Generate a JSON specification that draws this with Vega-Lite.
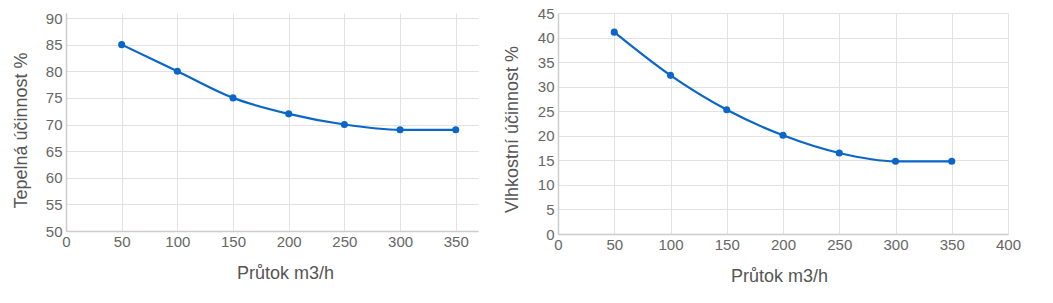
{
  "$schema": "https://vega.github.io/schema/vega-lite/v6.json",
  "padding": {"left": 12, "top": 6, "right": 0, "bottom": 0},
  "spacing": 25,
  "datasets": {
    "tep": [
      {"prutok": 50, "ucinnost": 85},
      {"prutok": 100, "ucinnost": 80},
      {"prutok": 150, "ucinnost": 75},
      {"prutok": 200, "ucinnost": 72},
      {"prutok": 250, "ucinnost": 70},
      {"prutok": 300, "ucinnost": 69},
      {"prutok": 350, "ucinnost": 69}
    ],
    "vlh": [
      {"prutok": 50, "ucinnost": 41.1},
      {"prutok": 100, "ucinnost": 32.3},
      {"prutok": 150, "ucinnost": 25.3},
      {"prutok": 200, "ucinnost": 20.1},
      {"prutok": 250, "ucinnost": 16.5},
      {"prutok": 300, "ucinnost": 14.8},
      {"prutok": 350, "ucinnost": 14.8}
    ]
  },
  "config": {
    "view": {"stroke": null},
    "font": "Liberation Sans",
    "axis": {
      "labelFont": "Liberation Sans",
      "titleFont": "Liberation Sans",
      "labelFontSize": 15,
      "titleFontSize": 18,
      "titleFontWeight": "normal",
      "labelColor": "#666666",
      "titleColor": "#555555",
      "gridColor": "#e2e2e2",
      "gridWidth": 1,
      "domainColor": "#cccccc",
      "domainWidth": 1.5,
      "ticks": false,
      "labelOverlap": false,
      "labelBound": false,
      "labelFlush": false
    },
    "axisX": {"labelPadding": 3, "titlePadding": 15},
    "axisY": {"labelPadding": 4, "titlePadding": 15}
  },
  "hconcat": [
    {
      "width": 412,
      "height": 218,
      "data": {"name": "tep"},
      "encoding": {
        "x": {"field": "prutok", "type": "quantitative", "scale": {"domain": [0, 370], "nice": false},
          "axis": {"title": "Průtok m3/h", "values": [0, 50, 100, 150, 200, 250, 300, 350], "titleX": 219}},
        "y": {"field": "ucinnost", "type": "quantitative", "scale": {"domain": [50, 90.94], "nice": false, "zero": false},
          "axis": {"title": "Tepelná účinnost %", "values": [50, 55, 60, 65, 70, 75, 80, 85, 90], "titleY": 117}}
      },
      "layer": [
        {"mark": {"type": "line", "interpolate": "monotone", "color": "#0a66c8", "strokeWidth": 2.2}},
        {"mark": {"type": "point", "filled": true, "opacity": 1, "color": "#0a66c8", "size": 50}}
      ]
    },
    {
      "width": 450,
      "height": 221,
      "data": {"name": "vlh"},
      "encoding": {
        "x": {"field": "prutok", "type": "quantitative", "scale": {"domain": [0, 400], "nice": false},
          "axis": {"title": "Průtok m3/h", "values": [0, 50, 100, 150, 200, 250, 300, 350, 400], "titleX": 221}},
        "y": {"field": "ucinnost", "type": "quantitative", "scale": {"domain": [0, 45], "nice": false},
          "axis": {"title": "Vlhkostní účinnost %", "values": [0, 5, 10, 15, 20, 25, 30, 35, 40, 45], "titleY": 116, "titlePadding": 16}}
      },
      "layer": [
        {"mark": {"type": "line", "interpolate": "monotone", "color": "#0a66c8", "strokeWidth": 2.2}},
        {"mark": {"type": "point", "filled": true, "opacity": 1, "color": "#0a66c8", "size": 50}}
      ]
    }
  ]
}
